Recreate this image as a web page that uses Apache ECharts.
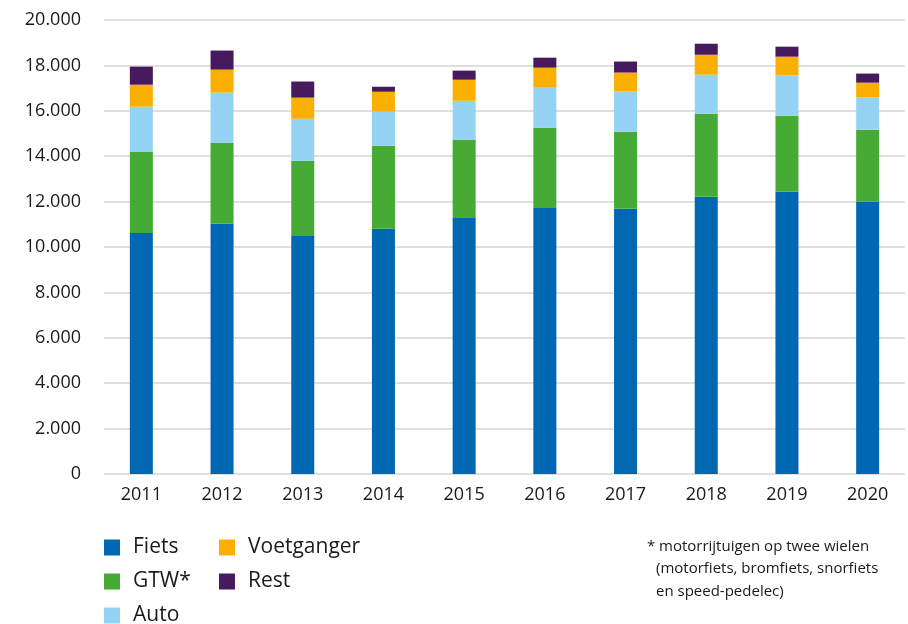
<!DOCTYPE html>
<html>
<head>
<meta charset="utf-8">
<style>
  html, body { margin: 0; padding: 0; background: #fff; }
  #chart { width: 908px; height: 624px; }
</style>
<script src="https://cdn.jsdelivr.net/npm/echarts@6.0.0/dist/echarts.min.js"></script>
</head>
<body>
<div id="chart"></div>
<script>
const years = ['2011', '2012', '2013', '2014', '2015', '2016', '2017', '2018', '2019', '2020']
const fiets = [10620, 11020, 10490, 10800, 11280, 11720, 11680, 12210, 12430, 11990]
const gtw = [3570, 3570, 3310, 3660, 3440, 3530, 3400, 3660, 3350, 3175]
const auto = [1990, 2210, 1850, 1500, 1720, 1770, 1765, 1720, 1780, 1425]
const voetganger = [970, 1015, 930, 880, 930, 880, 840, 880, 825, 650]
const rest = [795, 840, 710, 220, 400, 440, 485, 485, 440, 400]
const footnote = [
  'motorrijtuigen op twee wielen',
  '(motorfiets, bromfiets, snorfiets',
  'en speed-pedelec)'
]

const font = '"Open Sans", "Noto Sans", sans-serif'
const fmt = v => String(v).replace(/\B(?=(\d{3})+(?!\d))/g, '.')

const chart = echarts.init(document.getElementById('chart'))

const bar = (name, data, color) => ({
  name,
  type: 'bar',
  stack: 'total',
  xAxisIndex: 1,
  yAxisIndex: 1,
  barWidth: 23,
  data,
  itemStyle: { color },
  animation: false
})

const legendBase = {
  orient: 'vertical',
  icon: 'rect',
  itemWidth: 16,
  itemHeight: 16,
  itemGap: 13,
  top: 532,
  height: 120,
  padding: 5,
  selectedMode: false,
  textStyle: { fontFamily: font, fontSize: 21, color: '#1a1a1a', padding: [0, 0, 0, 8], lineHeight: 20 }
}

chart.setOption({
  animation: false,
  grid: [
    { left: 104, right: 3, top: 20, height: 454 },
    { left: 101, width: 816, top: 20, height: 454 }
  ],
  xAxis: [
    { gridIndex: 0, type: 'category', data: years, show: false },
    {
      gridIndex: 1,
      type: 'category',
      data: years,
      axisLine: { show: false },
      axisTick: { show: false },
      axisLabel: { margin: 12, fontFamily: font, fontSize: 18, color: '#1a1a1a' }
    }
  ],
  yAxis: [
    {
      gridIndex: 0,
      type: 'value',
      min: 0,
      max: 20000,
      interval: 2000,
      axisLine: { show: false },
      axisTick: { show: false },
      axisLabel: { margin: 23, fontFamily: font, fontSize: 18, color: '#1a1a1a', formatter: fmt },
      splitLine: { lineStyle: { color: '#d4d4d4', width: 1.5 } }
    },
    { gridIndex: 1, type: 'value', min: 0, max: 20000, show: false }
  ],
  legend: [
    Object.assign({}, legendBase, { left: 99, data: ['Fiets', 'GTW*', 'Auto'] }),
    Object.assign({}, legendBase, { left: 214, data: ['Voetganger', 'Rest'] })
  ],
  series: [
    bar('Fiets', fiets, '#0067b2'),
    bar('GTW*', gtw, '#45ab34'),
    bar('Auto', auto, '#95d3f5'),
    bar('Voetganger', voetganger, '#fbaf00'),
    bar('Rest', rest, '#461a5c')
  ],
  graphic: [
    { type: 'text', left: 647, top: 539, style: { text: '*', font: '15px ' + font, fill: '#1a1a1a' } },
    { type: 'text', left: 659, top: 539, style: { text: footnote[0], font: '15px ' + font, fill: '#1a1a1a' } },
    { type: 'text', left: 656, top: 561, style: { text: footnote[1], font: '15px ' + font, fill: '#1a1a1a' } },
    { type: 'text', left: 656, top: 584, style: { text: footnote[2], font: '15px ' + font, fill: '#1a1a1a' } }
  ]
})

window.addEventListener('resize', () => {
  chart.resize()
})
</script>
</body>
</html>
